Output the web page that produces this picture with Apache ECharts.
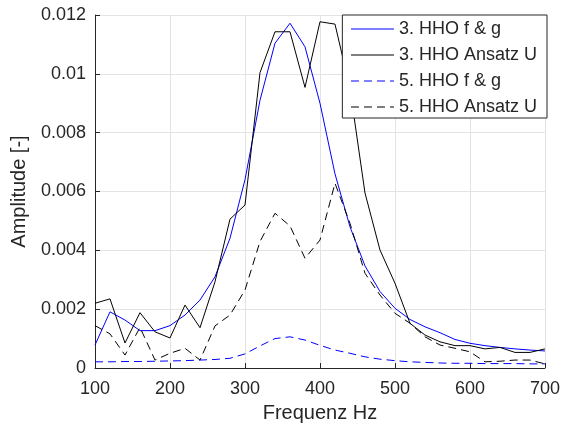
<!DOCTYPE html>
<html>
<head>
<meta charset="utf-8">
<script src="https://cdn.jsdelivr.net/npm/echarts@6/dist/echarts.min.js"></script>
<style>
html,body{margin:0;padding:0;background:#fff;}
#c{width:563px;height:432px;}
</style>
</head>
<body>
<div id="c"></div>
<script>
var freq = [100,120,140,160,180,200,220,240,260,280,300,320,340,360,380,400,420,440,460,480,500,520,540,560,580,600,620,640,660,680,700];
var fg3 = [0.00078,0.00191,0.00163,0.00127,0.00127,0.00144,0.0018,0.00231,0.0031,0.00441,0.0064,0.0091,0.01104,0.01172,0.01092,0.009,0.0066,0.0048,0.00347,0.0026,0.00203,0.00165,0.0014,0.0012,0.00097,0.00084,0.00076,0.0007,0.00065,0.00061,0.00058];
var ansatz3 = [0.0022,0.00235,0.00085,0.00188,0.00123,0.00102,0.00214,0.00137,0.00293,0.00506,0.00554,0.01004,0.01143,0.01143,0.00954,0.01177,0.01169,0.0095,0.00595,0.00401,0.00288,0.00152,0.00112,0.00089,0.00076,0.00076,0.00065,0.0007,0.00053,0.00053,0.00065];
var fg5 = [0.00021,0.00021,0.00022,0.00022,0.00023,0.00024,0.00025,0.00027,0.00029,0.00033,0.00048,0.00075,0.001,0.00106,0.00095,0.00077,0.00061,0.0005,0.00038,0.0003,0.00025,0.00021,0.00019,0.00017,0.00016,0.00016,0.00015,0.00015,0.00015,0.00014,0.00014];
var ansatz5 = [0.00144,0.00116,0.00044,0.00138,0.00027,0.0005,0.00067,0.00027,0.00143,0.0018,0.00265,0.0043,0.00526,0.00483,0.00373,0.00435,0.00628,0.00492,0.00322,0.00248,0.00186,0.00152,0.00106,0.00078,0.00067,0.00055,0.00021,0.00023,0.00027,0.00027,0.00014];
var names = ['3. HHO f & g','3. HHO Ansatz U','5. HHO f & g','5. HHO Ansatz U'];

function pairs(ys){ return freq.map(function(f,i){ return [f, ys[i]]; }); }

var font = 'Liberation Sans, Arial, Helvetica, sans-serif';
var txt = '#262626';
var chart = echarts.init(document.getElementById('c'), null, {renderer:'canvas'});
var mk = function(name, ys, color, dashed){
  return {
    name: name, type: 'line', data: pairs(ys), symbol: 'none', showSymbol: false,
    animation: false,
    lineStyle: {color: color, width: 1, type: dashed ? [8,5] : 'solid'},
    itemStyle: {color: color}
  };
};
chart.setOption({
  animation: false,
  backgroundColor: '#fff',
  textStyle: {fontFamily: font},
  grid: {left: 95, right: 16, top: 15, bottom: 64, containLabel: false},
  legend: {
    orient: 'vertical', right: 16, top: 15,
    data: names,
    backgroundColor: '#fff',
    borderColor: txt, borderWidth: 1,
    padding: [5, 10, 2, 8],
    itemWidth: 43, itemHeight: 14, itemGap: 8,
    itemStyle: {opacity: 0},
    lineStyle: {width: 1.2},
    textStyle: {fontSize: 18, color: txt, fontFamily: font, padding: [0,0,0,0]}
  },
  xAxis: {
    type: 'value', min: 100, max: 700, interval: 100,
    name: 'Frequenz Hz', nameLocation: 'middle', nameGap: 35,
    nameTextStyle: {fontSize: 20, color: txt, fontFamily: font},
    axisLine: {show: true, onZero: false, lineStyle: {color: txt, width: 1}},
    axisTick: {show: true, inside: true, length: 5, lineStyle: {color: txt}},
    axisLabel: {fontSize: 18, color: txt, margin: 12, fontFamily: font},
    splitLine: {show: true, lineStyle: {color: '#e3e3e3', width: 1}}
  },
  yAxis: {
    type: 'value', min: 0, max: 0.012, interval: 0.002,
    name: 'Amplitude [-]', nameLocation: 'middle', nameGap: 66, nameRotate: 90,
    nameTextStyle: {fontSize: 20, color: txt, fontFamily: font},
    axisLine: {show: true, onZero: false, lineStyle: {color: txt, width: 1}},
    axisTick: {show: true, inside: true, length: 5, lineStyle: {color: txt}},
    axisLabel: {fontSize: 18, color: txt, margin: 9, fontFamily: font,
      formatter: function(v){ return String(parseFloat(v.toFixed(3))); }},
    splitLine: {show: true, lineStyle: {color: '#e3e3e3', width: 1}}
  },
  series: [
    mk(names[0], fg3, '#0000ff', false),
    mk(names[1], ansatz3, '#000000', false),
    mk(names[2], fg5, '#0000ff', true),
    mk(names[3], ansatz5, '#000000', true)
  ]
});
</script>
</body>
</html>
